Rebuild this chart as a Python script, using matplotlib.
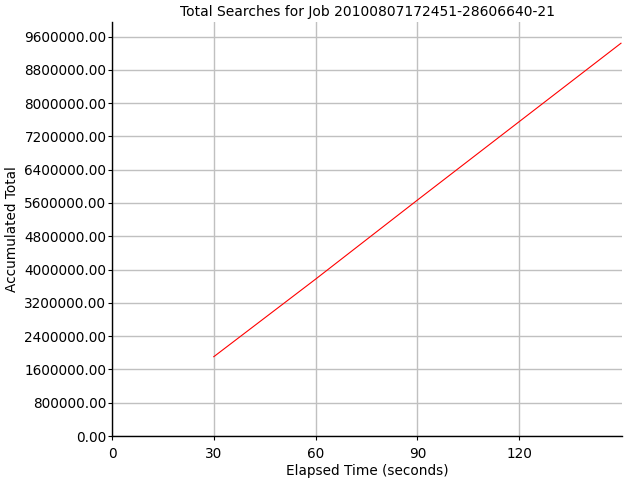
import matplotlib
matplotlib.use("Agg")
import matplotlib.pyplot as plt
from matplotlib.ticker import FormatStrFormatter, MultipleLocator

# data
elapsed = [30, 60, 90, 120, 150]
totals = [1906000, 3770000, 5670000, 7555000, 9440000]
x_ticks = [0, 30, 60, 90, 120]

title = "Total Searches for Job 20100807172451-28606640-21"

fig = plt.figure(figsize=(6.4, 4.8), dpi=100)
ax = fig.add_axes([112 / 640, 44 / 480, 510 / 640, 414 / 480])

ax.plot(elapsed, totals, color="#ff0000", linewidth=0.8)

ax.set_xlim(0, 150.3)
ax.set_ylim(0, 9950000)
ax.set_xticks(x_ticks)
ax.yaxis.set_major_locator(MultipleLocator(800000))
ax.yaxis.set_major_formatter(FormatStrFormatter("%.2f"))

ax.grid(True, color="#c0c0c0", linewidth=1.0)
ax.set_axisbelow(True)
for side in ("top", "right"):
    ax.spines[side].set_visible(False)
for side in ("left", "bottom"):
    ax.spines[side].set_linewidth(1.0)
    ax.spines[side].set_color("black")

ax.tick_params(axis="both", direction="out", length=3, width=0.8, labelsize=9.8)
ax.tick_params(axis="y", pad=1)
ax.tick_params(axis="x", pad=5)

ax.set_title(title, fontsize=10, pad=4)
ax.set_xlabel("Elapsed Time (seconds)", fontsize=9.8, va="center")
ax.set_ylabel("Accumulated Total", fontsize=9.8, va="center")
ax.xaxis.set_label_coords(0.5, (436 - 471) / 414)
ax.yaxis.set_label_coords((12 - 112) / 510, 0.5)

fig.savefig("out.png", dpi=100)
